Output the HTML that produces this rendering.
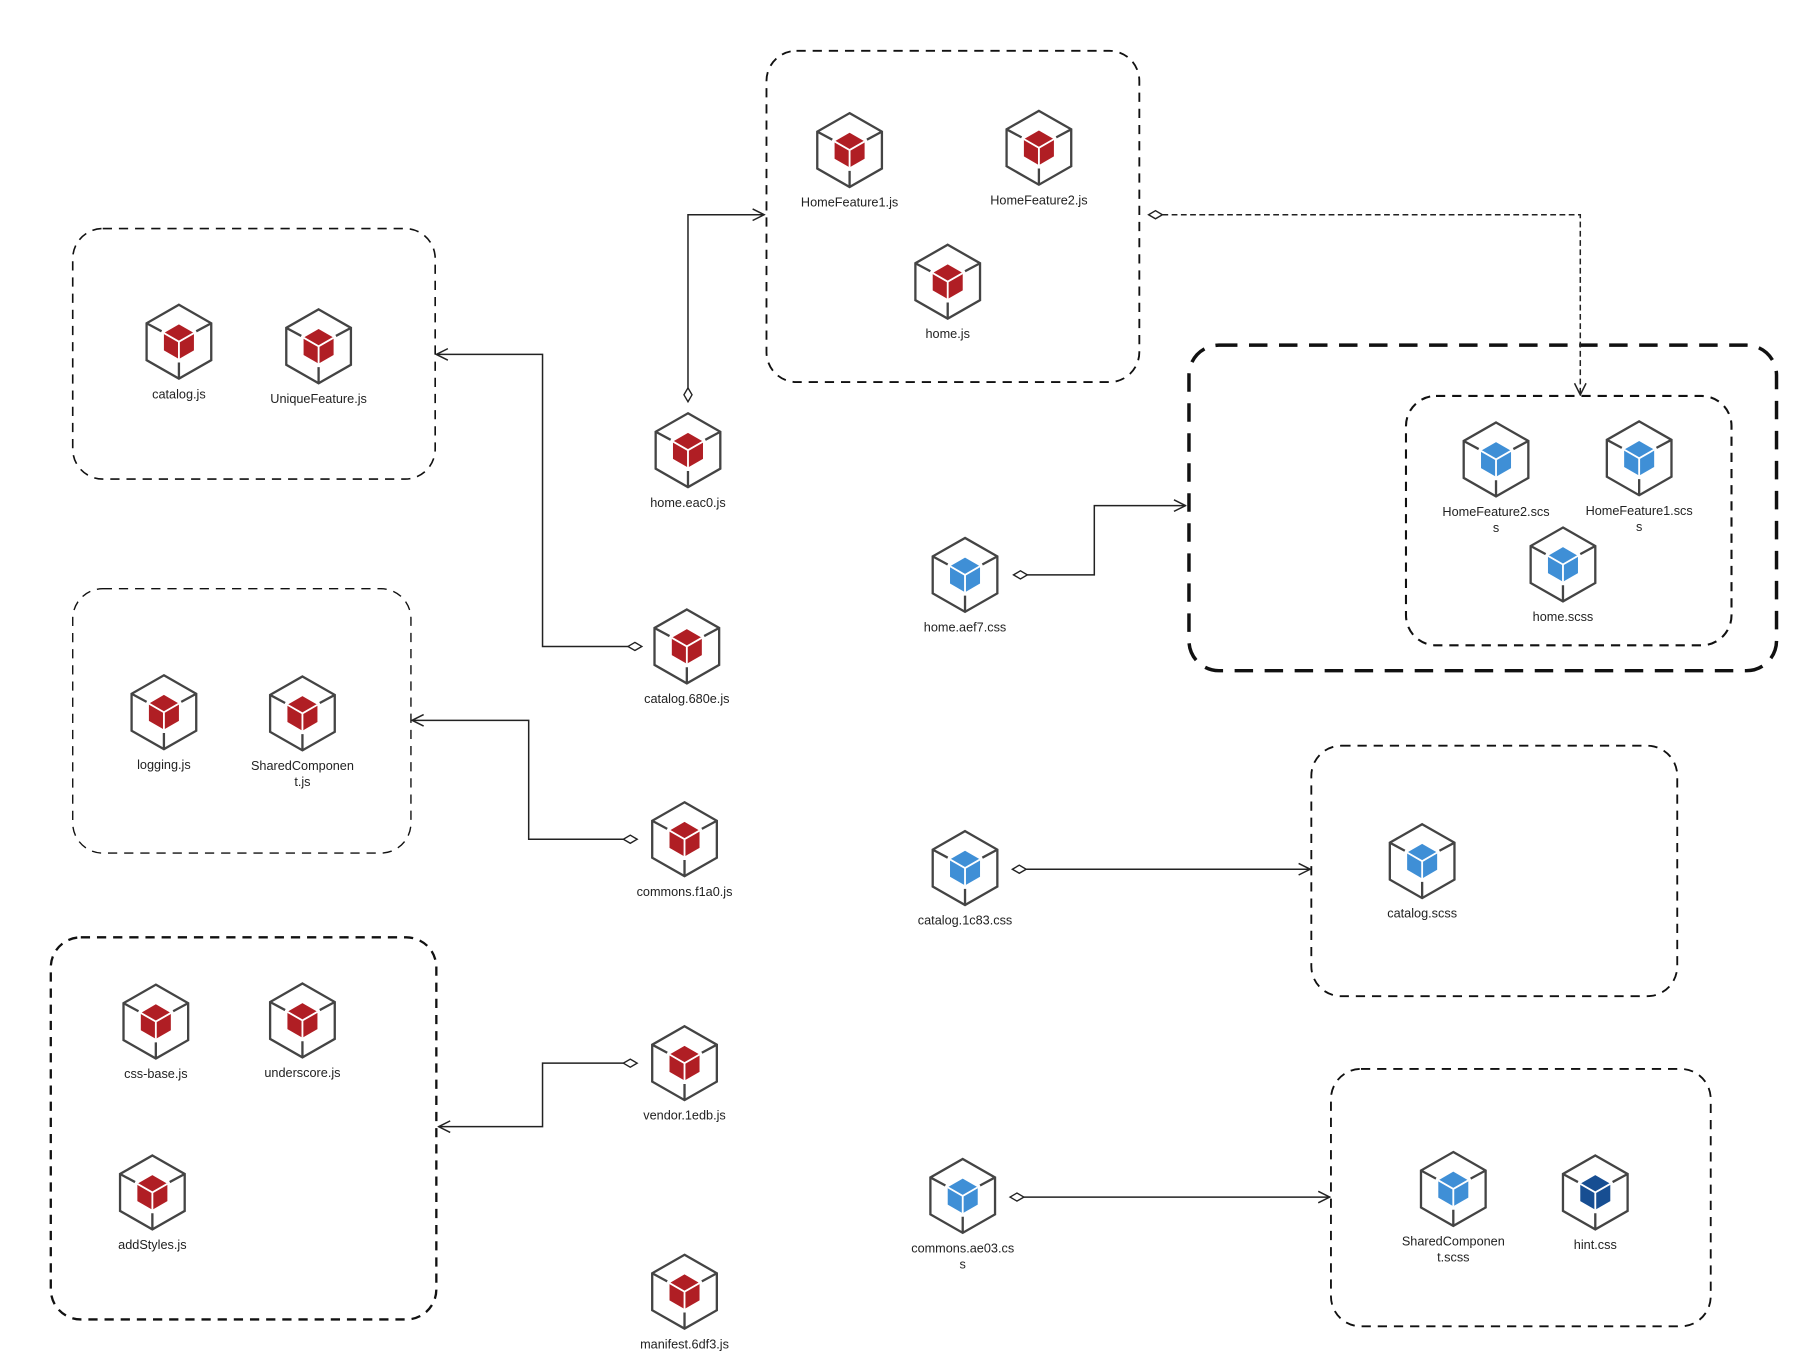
<!DOCTYPE html>
<html><head><meta charset="utf-8"><style>
html,body{margin:0;padding:0;background:#fff;}
svg{display:block;}
text{font-family:"Liberation Sans",sans-serif;font-size:11px;fill:#222;text-anchor:middle;}
</style></head><body>
<svg id="chart" width="1810" height="1361" viewBox="0 0 1568 1179" xmlns="http://www.w3.org/2000/svg">
<defs>
<marker id="arr" viewBox="0 0 12 12" refX="11" refY="6" markerWidth="12" markerHeight="12" orient="auto" markerUnits="userSpaceOnUse"><path d="M1,1 L11,6 L1,11" fill="none" stroke="#222" stroke-width="1.3"/></marker>
</defs>
<g id="boxes"></g>
<g id="links"></g>
<g id="nodes"></g>
</svg>
<script>
const NS='http://www.w3.org/2000/svg';
const boxNames=['home-js-group','catalog-js-group','shared-js-group','vendor-js-group','home-css-group','home-scss-group','catalog-scss-group','commons-scss-group'];
const boxRects=[[664,44,987,331,1.6],[63,198,377,415,1.4],[63,510,356,739,1.2],[44,812,378,1143,2],[1030,299,1539,581,3],[1218,343,1500,559,1.8],[1136,646,1453,863,1.6],[1153,926,1482,1149,1.6]];
const nodeNames=['HomeFeature1.js','HomeFeature2.js','home.js','catalog.js','UniqueFeature.js','home.eac0.js','catalog.680e.js','logging.js','SharedComponen|t.js','commons.f1a0.js','vendor.1edb.js','manifest.6df3.js','css-base.js','underscore.js','addStyles.js','home.aef7.css','HomeFeature2.scs|s','HomeFeature1.scs|s','home.scss','catalog.1c83.css','catalog.scss','commons.ae03.cs|s','SharedComponen|t.scss','hint.css'];
const nodeX=[736,900,821,155,276,596,595,142,262,593,593,593,135,262,132,836,1296,1420,1354,836,1232,834,1259,1382];
const nodeY=[130,128,244,296,300,390,560,617,618,727,921,1119,885,884,1033,498,398,397,489,752,746,1036,1030,1033];
const nodeKind=['r','r','r','r','r','r','r','r','r','r','r','r','r','r','r','b','b','b','b','b','b','b','b','d'];
const colors={r:'#B01E24',b:'#3F8FD6',d:'#174E92'};
const linkNames=['home-eac0-link','catalog-680e-link','commons-f1a0-link','vendor-link','home-group-to-scss-link','home-aef7-link','catalog-1c83-link','commons-ae03-link'];
const linkPts=[[[596,348],[596,186],[662,186]],[[556,560],[470,560],[470,307],[378,307]],[[552,727],[458,727],[458,624],[357,624]],[[552,921],[470,921],[470,976],[380,976]],[[995,186],[1369,186],[1369,342]],[[878,498],[948,498],[948,438],[1027,438]],[[877,753],[1135,753]],[[875,1037],[1152,1037]]];
const linkDash=[0,0,0,0,1,0,0,0];

const gb=document.getElementById('boxes');
boxRects.forEach((b,i)=>{
  const r=document.createElementNS(NS,'rect');
  r.setAttribute('x',b[0]);r.setAttribute('y',b[1]);r.setAttribute('width',b[2]-b[0]);r.setAttribute('height',b[3]-b[1]);
  r.setAttribute('rx',26);r.setAttribute('fill','none');r.setAttribute('stroke','#111');r.setAttribute('stroke-width',b[4]);
  r.setAttribute('stroke-dasharray',b[4]>=2.5?'16 10':'8 6');
  
  
  gb.appendChild(r);
});
const gl=document.getElementById('links');
linkPts.forEach((p,i)=>{
  const g=document.createElementNS(NS,'g');
  
  
  const pl=document.createElementNS(NS,'polyline');
  const s=p[0],n=p[1];const dx=Math.sign(n[0]-s[0]),dy=Math.sign(n[1]-s[1]);
  const pts=[[s[0]+dx*12,s[1]+dy*12]].concat(p.slice(1));
  pl.setAttribute('points',pts.map(q=>q.join(',')).join(' '));
  pl.setAttribute('fill','none');pl.setAttribute('stroke','#222');pl.setAttribute('stroke-width',1.3);
  if(linkDash[i])pl.setAttribute('stroke-dasharray','5 3');
  pl.setAttribute('marker-end','url(#arr)');
  g.appendChild(pl);
  const d=document.createElementNS(NS,'path');
  const ex=s[0]+dx*12,ey=s[1]+dy*12,mx=s[0]+dx*6,my=s[1]+dy*6,px=-dy*3.5,py=dx*3.5;
  d.setAttribute('d',`M${s[0]},${s[1]} L${mx+px},${my+py} L${ex},${ey} L${mx-px},${my-py} Z`);
  d.setAttribute('fill','#fff');d.setAttribute('stroke','#222');d.setAttribute('stroke-width',1.2);
  g.appendChild(d);
  gl.appendChild(g);
});
const gn=document.getElementById('nodes');
nodeNames.forEach((nm,i)=>{
  const cx=nodeX[i],cy=nodeY[i],c=colors[nodeKind[i]];
  const g=document.createElementNS(NS,'g');
  
  
  const W=28,H=32;
  g.innerHTML=`<path d="M${cx},${cy-H} L${cx+W},${cy-H/2} L${cx+W},${cy+H/2} L${cx},${cy+H} L${cx-W},${cy+H/2} L${cx-W},${cy-H/2} Z" fill="#fff" stroke="#444" stroke-width="2"/>
<path d="M${cx-W},${cy-H/2} L${cx-15},${cy-9} M${cx+W},${cy-H/2} L${cx+15},${cy-9} M${cx},${cy+H} L${cx},${cy+18}" stroke="#444" stroke-width="2"/>
<path d="M${cx},${cy-15} L${cx+13},${cy-7.5} L${cx+13},${cy+7.5} L${cx},${cy+15} L${cx-13},${cy+7.5} L${cx-13},${cy-7.5} Z" fill="${c}"/>
<path d="M${cx-13},${cy-7.5} L${cx},${cy} L${cx+13},${cy-7.5} M${cx},${cy} L${cx},${cy+15}" stroke="#fff" stroke-width="1.6" fill="none"/>`;
  const parts=nm.split('|');
  parts.forEach((t,k)=>{
    const tx=document.createElementNS(NS,'text');
    tx.setAttribute('x',cx);tx.setAttribute('y',cy+49+k*14);
    tx.textContent=t;
    
    
    g.appendChild(tx);
  });
  gn.appendChild(g);
});
</script>
</body></html>
